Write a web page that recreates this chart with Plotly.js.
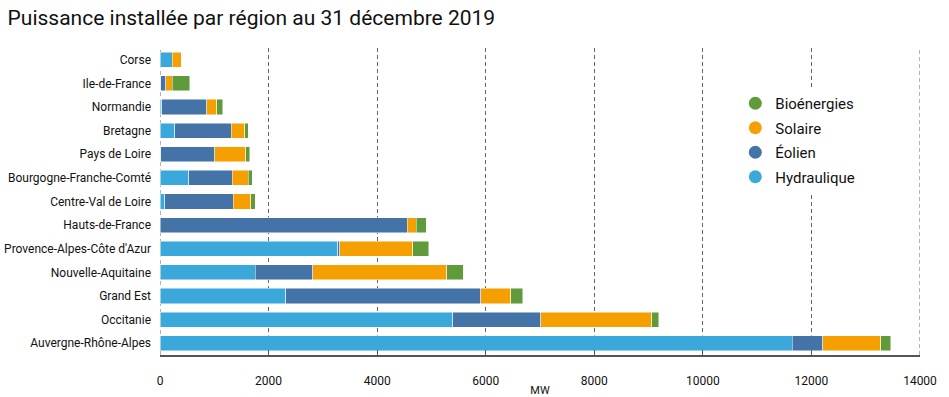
<!DOCTYPE html>
<html><head><meta charset="utf-8">
<script src="https://cdn.plot.ly/plotly-3.0.1.min.js"></script>
<style>body{margin:0;background:#fff}#c{width:949px;height:397px}</style>
</head><body><div id="c"></div>
<script>
const regions = ["Corse","Ile-de-France","Normandie","Bretagne","Pays de Loire","Bourgogne-Franche-Comté","Centre-Val de Loire","Hauts-de-France","Provence-Alpes-Côte d'Azur","Nouvelle-Aquitaine","Grand Est","Occitanie","Auvergne-Rhône-Alpes"];
const hydraulique = [227, 15, 35, 270, 10, 530, 90, 5, 3270, 1755, 2315, 5395, 11645];
const eolien      = [0, 90, 830, 1040, 1000, 800, 1255, 4545, 45, 1055, 3595, 1620, 560];
const solaire     = [160, 120, 180, 250, 565, 300, 325, 170, 1340, 2470, 550, 2040, 1075];
const bioenergies = [5, 320, 115, 70, 80, 70, 80, 180, 295, 310, 225, 135, 180];
const xTicks = [0,2000,4000,6000,8000,10000,12000,14000];

const font = "Roboto, 'Open Sans', sans-serif";
const series = [
  ['Hydraulique', hydraulique, '#3ba8db'],
  ['Éolien', eolien, '#4474a7'],
  ['Solaire', solaire, '#f5a000'],
  ['Bioénergies', bioenergies, '#5f9a3b']
];
const data = [];
series.forEach(([name, vals, color]) => {
  data.push({type:'bar', orientation:'h', name:name, x:vals, y:regions, showlegend:false,
    marker:{color:color, line:{color:'rgba(255,255,255,0.6)', width:0.8}},
    width:0.64, hoverinfo:'x+name'});
});
series.slice().reverse().forEach(([name, vals, color], i) => {
  data.push({type:'scatter', mode:'markers', name:name, x:[null], y:[null], legendgroup:'g'+i,
    marker:{symbol:'circle', size:13, color:color}, showlegend:true});
});
const gridEdges = [0, 14000].map(v => ({type:'line', xref:'x', yref:'paper', x0:v, x1:v, y0:0, y1:1,
  line:{color:'#666', width:1, dash:'4px,3px'}, layer:'below'}));
const layout = {
  width:949, height:397, barmode:'stack',
  margin:{l:160, r:29, t:48, b:42},
  paper_bgcolor:'#fff', plot_bgcolor:'#fff',
  font:{family:font, size:12, color:'#111'},
  title:{text:'Puissance installée par région au 31 décembre 2019', x:0.008, xanchor:'left', y:0.955, yanchor:'middle', font:{family:font, size:21, color:'#111'}},
  xaxis:{range:[0,14000], tickvals:xTicks, ticktext:xTicks.map(String), showgrid:true, gridcolor:'#666', griddash:'4px,3px', gridwidth:1,
    zeroline:false, showline:true, linecolor:'#555', linewidth:2, ticks:'inside', ticklen:5, tickcolor:'#555',
    ticklabelstandoff:14, tickfont:{size:12, family:font},
    title:{text:'MW', font:{size:11, family:font}, standoff:3}},
  yaxis:{categoryorder:'array', categoryarray:regions.slice().reverse(), autorange:false, range:[-0.5,12.5],
    showgrid:false, zeroline:false, showline:false, ticks:'', ticklabelstandoff:8, tickfont:{size:12, family:font}},
  shapes: gridEdges,
  legend:{x:0.757, y:0.873, xanchor:'left', yanchor:'top', traceorder:'grouped', tracegroupgap:2, bgcolor:'#fff', font:{size:15, family:font}, itemwidth:30},
  showlegend:true
};
Plotly.newPlot('c', data, layout, {displayModeBar:false, staticPlot:true});
</script></body></html>
